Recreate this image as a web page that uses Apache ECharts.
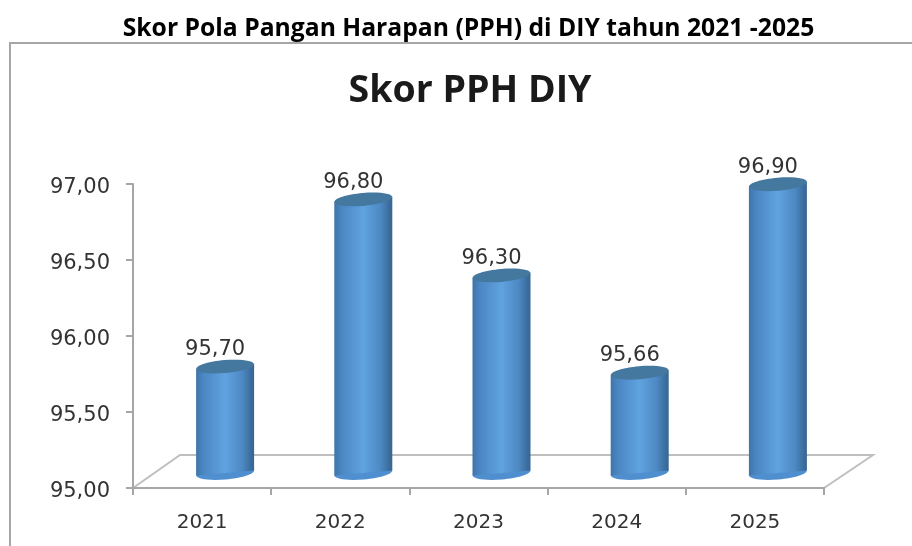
<!DOCTYPE html>
<html><head><meta charset="utf-8">
<style>html,body{margin:0;padding:0;background:#fff}#c{width:912px;height:546px}</style>
<script src="https://cdn.jsdelivr.net/npm/echarts@6/dist/echarts.min.js"></script>
</head><body><div id="c"></div>
<script>
const pageTitle = 'Skor Pola Pangan Harapan (PPH) di DIY tahun 2021 -2025';
const chartTitle = 'Skor PPH DIY';
const categories = ['2021','2022','2023','2024','2025'];
const values = [95.70,96.80,96.30,95.66,96.90];
const yTicks = [95,95.5,96,96.5,97];

const fmt = v => v.toFixed(2).replace('.', ',');
const chart = echarts.init(document.getElementById('c'), null, {renderer:'canvas'});
const bodyGrad = new echarts.graphic.LinearGradient(0,0,1,0,[
  {offset:0,color:'#3f74a8'},{offset:0.12,color:'#4a86c2'},{offset:0.5,color:'#5fa3e0'},
  {offset:0.8,color:'#4d88c2'},{offset:0.95,color:'#3a6c9c'},{offset:1,color:'#376690'}]);
const DX=23, DY=-15, W=58, RY=6.5, TILT=5*Math.PI/180;
function renderCyl(params, api){
  const top = api.coord([api.value(0), api.value(1)]);
  const base = api.coord([api.value(0), 95]);
  const cx = top[0]+DX, ty = top[1]+DY, by = base[1]+DY;
  const dy = W/2*Math.sin(TILT);
  const ell = (y,fill)=>({type:'ellipse',shape:{cx:cx,cy:y,rx:W/2,ry:RY},rotation:TILT,originX:cx,originY:y,style:{fill:fill}});
  return {type:'group',children:[
    ell(by,'#4f8fcf'),
    {type:'polygon',shape:{points:[[cx-W/2,ty+dy],[cx+W/2,ty-dy],[cx+W/2,by-dy],[cx-W/2,by+dy]]},style:{fill:bodyGrad}},
    ell(ty,'#44789f'),
    {type:'text',x:cx-10,y:ty-RY,style:{text:fmt(api.value(1)),font:'21px "DejaVu Sans"',fill:'#333',align:'center',verticalAlign:'bottom'}}
  ]};
}
chart.setOption({
  animation:false,
  backgroundColor:'#fff',
  title:[
    {text:pageTitle,left:463.5,top:11,textAlign:'center',textStyle:{fontFamily:'Open Sans',fontWeight:'bold',fontSize:24.7,color:'#000'}},
    {text:chartTitle,left:465,top:67,textAlign:'center',textStyle:{fontFamily:'Open Sans',fontWeight:'bold',fontSize:37.5,color:'#1a1a1a'}}
  ],
  grid:{left:133,right:88,top:184,bottom:58},
  xAxis:{type:'category',data:categories,
    axisLine:{lineStyle:{color:'#a6a6a6',width:2}},
    axisTick:{show:true,length:7,lineStyle:{color:'#a6a6a6',width:2}},
    axisLabel:{fontFamily:'DejaVu Sans',fontSize:20,color:'#333',margin:25}},
  yAxis:{type:'value',min:yTicks[0],max:yTicks[yTicks.length-1],interval:0.5,
    axisLine:{show:true,lineStyle:{color:'#a6a6a6',width:2}},
    axisTick:{show:true,length:7,lineStyle:{color:'#a6a6a6',width:2}},
    splitLine:{show:false},
    axisLabel:{fontFamily:'DejaVu Sans',fontSize:21,color:'#333',margin:23,verticalAlign:'top',lineHeight:8,formatter:fmt}},
  graphic:[
    {type:'polyline',shape:{points:[[10,546],[10,43],[912,43]]},style:{stroke:'#a6a6a6',lineWidth:2,fill:null}},
    {type:'polyline',shape:{points:[[133,488],[180,455],[873,455],[824,488]]},style:{stroke:'#bfbfbf',lineWidth:2,fill:null},z:0}
  ],
  series:[{type:'custom',renderItem:renderCyl,data:categories.map((c,i)=>[i,values[i]]),encode:{x:0,y:1},clip:false,z:5}]
});
</script></body></html>
